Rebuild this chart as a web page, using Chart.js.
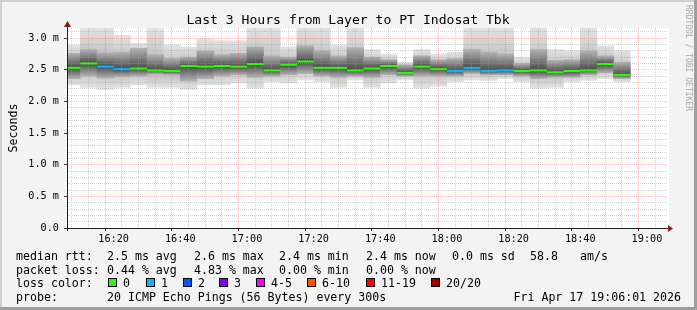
<!DOCTYPE html>
<html lang="en">
<head>
  <meta charset="UTF-8" />
  <title>Smokeping - Layer to PT Indosat Tbk</title>
  <script src="https://cdn.jsdelivr.net/npm/chart.js"></script>
  <style>
    html, body { margin: 0; padding: 0; background: #f3f3f3; }
    canvas { display: block; }
  </style>
</head>
<body>
  <canvas id="smokeChart" width="697" height="310"></canvas>

  <script>
    // 5 minute slots, each one named by the time it ends
    const slotEnds = ['16:10','16:15','16:20','16:25','16:30','16:35','16:40','16:45','16:50','16:55',
      '17:00','17:05','17:10','17:15','17:20','17:25','17:30','17:35','17:40','17:45',
      '17:50','17:55','18:00','18:05','18:10','18:15','18:20','18:25','18:30','18:35',
      '18:40','18:45','18:50','18:55'];

    // round trip times in ms
    const medianRtt = [2.53,2.60,2.55,2.51,2.52,2.49,2.48,2.56,2.55,2.56,
      2.55,2.59,2.49,2.58,2.63,2.53,2.53,2.49,2.52,2.56,
      2.45,2.55,2.51,2.48,2.53,2.48,2.49,2.48,2.49,2.46,
      2.48,2.49,2.59,2.42];
    const pingMin = [2.26,2.22,2.19,2.22,2.26,2.22,2.22,2.19,2.26,2.26,
      2.29,2.21,2.31,2.29,2.34,2.31,2.22,2.34,2.22,2.29,
      2.34,2.21,2.24,2.31,2.34,2.33,2.36,2.31,2.21,2.22,
      2.31,2.33,2.36,2.31];
    const pingLow = [2.36,2.40,2.37,2.39,2.40,2.43,2.42,2.32,2.36,2.40,
      2.42,2.38,2.40,2.42,2.44,2.40,2.38,2.40,2.38,2.42,
      2.40,2.40,2.40,2.40,2.44,2.42,2.42,2.40,2.36,2.38,
      2.38,2.42,2.45,2.36];
    const pingHigh = [2.76,2.82,2.77,2.78,2.84,2.74,2.68,2.70,2.80,2.74,
      2.76,2.86,2.72,2.70,2.88,2.80,2.72,2.85,2.70,2.66,
      2.58,2.72,2.66,2.68,2.82,2.78,2.75,2.60,2.82,2.65,
      2.66,2.80,2.72,2.62];
    const pingMax = [2.89,3.16,3.16,3.05,2.92,3.15,2.89,2.86,2.99,2.96,
      2.96,3.16,3.16,2.86,3.16,3.16,2.89,3.16,2.82,2.75,
      2.62,2.82,2.75,2.78,3.16,3.16,3.16,2.70,3.16,2.82,
      2.80,3.16,2.88,2.80];
    // pings lost out of 20
    const lostPings = [0,0,1,1,0,0,0,0,0,0,
      0,0,0,0,0,0,0,0,0,0,
      0,0,0,1,1,1,1,0,0,0,
      0,0,0,0];

    const lossLabels = ['0', '1', '2', '3', '4-5', '6-10', '11-19', '20/20'];
    const lossColors = ['#26ff00', '#00b8ff', '#0059ff', '#7e00ff', '#ff00ff', '#ff5500', '#ff0000', '#a10000'];

    const xTickLabels = ['16:20','16:40','17:00','17:20','17:40','18:00','18:20','18:40','19:00'];
    const yTickLabels = ['0.0','0.5 m','1.0 m','1.5 m','2.0 m','2.5 m','3.0 m'];

    const windowStart = '16:06:01';
    const windowEnd = '19:06:01';
    const yMax = 3.16;

    function toMin(t) {
      const p = t.split(':').map(Number);
      return p[0] * 60 + p[1] + (p[2] || 0) / 60;
    }

    function lossBucket(n) {
      if (n <= 3) return n;
      if (n <= 5) return 4;
      if (n <= 10) return 5;
      if (n <= 19) return 6;
      return 7;
    }

    const centers = slotEnds.map(t => toMin(t) - 2.5);
    const medianColors = lostPings.map(n => lossColors[lossBucket(n)]);

    const MONO = '"DejaVu Sans Mono", monospace';
    const MINOR = 'rgba(160,160,160,0.45)';
    const MAJOR = 'rgba(235,90,90,0.38)';

    // vertical shading of one smoke band, darkest at the median
    function smokeShade(lowArr, highArr, edge, core) {
      return c => {
        if (c.type !== 'data') return edge;
        const y = c.chart.scales.y;
        const i = c.dataIndex;
        const top = y.getPixelForValue(highArr[i]);
        const bottom = y.getPixelForValue(lowArr[i]);
        const mid = y.getPixelForValue(medianRtt[i]);
        if (!isFinite(top) || !isFinite(bottom) || bottom - top < 1) return edge;
        const g = c.chart.ctx.createLinearGradient(0, top, 0, bottom);
        const t = Math.min(0.98, Math.max(0.02, (mid - top) / (bottom - top)));
        g.addColorStop(0, edge);
        g.addColorStop(t, core);
        g.addColorStop(1, edge);
        return g;
      };
    }

    const statRows = [
      { y: 259.5, items: [[16, 'median rtt:'], [107, '2.5 ms avg'], [194, '2.6 ms max'], [279, '2.4 ms min'],
        [366, '2.4 ms now'], [452, '0.0 ms sd'], [530, '58.8'], [580, 'am/s']] },
      { y: 273.5, items: [[16, 'packet loss:'], [107, '0.44 % avg'], [194, '4.83 % max'], [279, '0.00 % min'],
        [366, '0.00 % now']] },
      { y: 287, items: [[16, 'loss color:']] },
      { y: 300.5, items: [[16, 'probe:'], [107, '20 ICMP Echo Pings (56 Bytes) every 300s']] }
    ];
    const lossBoxX = [108, 146, 183, 219, 256, 307, 366, 431];

    const decorations = {
      id: 'decorations',
      beforeDraw(chart) {
        const { ctx, chartArea: a, width, height } = chart;
        ctx.save();
        ctx.fillStyle = '#f3f3f3';
        ctx.fillRect(0, 0, width, height);
        ctx.fillStyle = '#ffffff';
        ctx.fillRect(a.left, a.top, a.right - a.left + 2, a.bottom - a.top);
        ctx.restore();
      },
      afterDraw(chart) {
        const { ctx, chartArea: a, width, height } = chart;
        ctx.save();

        // axes with arrow heads
        ctx.strokeStyle = '#202020';
        ctx.lineWidth = 1;
        ctx.beginPath();
        ctx.moveTo(a.left + 0.5, a.bottom + 3);
        ctx.lineTo(a.left + 0.5, a.top - 4);
        ctx.moveTo(a.left - 3, a.bottom + 0.5);
        ctx.lineTo(a.right + 2, a.bottom + 0.5);
        ctx.stroke();
        ctx.fillStyle = '#8b1a1a';
        ctx.beginPath();
        ctx.moveTo(a.left + 0.5, a.top - 7);
        ctx.lineTo(a.left + 4, a.top - 1);
        ctx.lineTo(a.left - 3, a.top - 1);
        ctx.closePath();
        ctx.fill();
        ctx.beginPath();
        ctx.moveTo(a.right + 6, a.bottom + 0.5);
        ctx.lineTo(a.right + 1, a.bottom - 3);
        ctx.lineTo(a.right + 1, a.bottom + 4);
        ctx.closePath();
        ctx.fill();

        // title
        ctx.fillStyle = '#000';
        ctx.font = '13.1px ' + MONO;
        ctx.textAlign = 'center';
        ctx.textBaseline = 'alphabetic';
        ctx.fillText('Last 3 Hours from Layer to PT Indosat Tbk', 348, 23.5);

        // unit label
        ctx.font = '11.6px ' + MONO;
        ctx.save();
        ctx.translate(14, 128);
        ctx.rotate(-Math.PI / 2);
        ctx.textBaseline = 'middle';
        ctx.fillText('Seconds', 0, 0);
        ctx.restore();

        // legend rows
        ctx.textAlign = 'left';
        statRows.forEach(row => {
          row.items.forEach(([x, txt]) => ctx.fillText(txt, x, row.y));
        });
        lossLabels.forEach((lbl, i) => {
          const bx = lossBoxX[i];
          ctx.fillStyle = lossColors[i];
          ctx.fillRect(bx, 278.5, 8, 8);
          ctx.strokeStyle = '#000';
          ctx.strokeRect(bx + 0.5, 278.5, 8, 8);
          ctx.fillStyle = '#000';
          ctx.fillText(lbl, bx + 15, 287);
        });
        ctx.textAlign = 'right';
        ctx.fillText('Fri Apr 17 19:06:01 2026', 681, 300.5);

        // watermark
        ctx.save();
        ctx.translate(688, 5);
        ctx.rotate(Math.PI / 2);
        ctx.font = '8px ' + MONO;
        ctx.fillStyle = '#a8a8a8';
        ctx.textAlign = 'left';
        ctx.textBaseline = 'middle';
        ctx.fillText('RRDTOOL / TOBI OETIKER', 0, 0);
        ctx.restore();

        // shaded frame
        ctx.fillStyle = '#cfcfcf';
        ctx.fillRect(0, 0, width, 2);
        ctx.fillRect(0, 0, 2, height);
        ctx.fillStyle = '#9e9e9e';
        ctx.fillRect(0, height - 3, width, 3);
        ctx.fillRect(width - 3, 0, 3, height);
        ctx.restore();
      }
    };

    const ctx = document.getElementById('smokeChart').getContext('2d');
    new Chart(ctx, {
      type: 'bar',
      data: {
        datasets: [
          {
            type: 'line',
            label: 'median rtt',
            data: centers.map((x, i) => ({ x: x, y: medianRtt[i] })),
            showLine: false,
            pointStyle: 'line',
            pointRadius: 8.34,
            pointHoverRadius: 8.34,
            pointBorderWidth: 2,
            pointBorderColor: medianColors,
            pointBackgroundColor: medianColors,
            clip: 0,
            order: 0
          },
          {
            label: 'core',
            data: centers.map((x, i) => ({ x: x, y: [pingLow[i], pingHigh[i]] })),
            backgroundColor: smokeShade(pingLow, pingHigh, '#b2b2b2', '#4a4a4a'),
            borderWidth: 0,
            grouped: false,
            barPercentage: 1,
            categoryPercentage: 1,
            clip: 0,
            order: 1
          },
          {
            label: 'smoke',
            data: centers.map((x, i) => ({ x: x, y: [pingMin[i], pingMax[i]] })),
            backgroundColor: smokeShade(pingMin, pingMax, '#e2e2e2', '#b6b6b6'),
            borderWidth: 0,
            grouped: false,
            barPercentage: 1,
            categoryPercentage: 1,
            clip: 0,
            order: 2
          }
        ]
      },
      options: {
        responsive: false,
        animation: false,
        events: [],
        layout: { padding: { top: 28, right: 30, left: 0, bottom: 0 } },
        plugins: {
          legend: { display: false },
          tooltip: { enabled: false }
        },
        scales: {
          x: {
            type: 'linear',
            offset: false,
            min: toMin(windowStart),
            max: toMin(windowEnd),
            afterFit: s => { s.height = 82; },
            afterBuildTicks: axis => {
              const t = [];
              for (let m = 970; m <= 1145; m += 5) t.push({ value: m });
              axis.ticks = t;
            },
            ticks: {
              autoSkip: false,
              maxRotation: 0,
              minRotation: 0,
              padding: 2,
              color: '#000',
              font: { family: 'DejaVu Sans Mono', size: 10.2 },
              callback: v => xTickLabels.find(l => Math.abs(toMin(l) - v) < 0.01) || ''
            },
            grid: {
              z: 1,
              lineWidth: 1,
              tickLength: 3,
              color: c => (c.tick && c.tick.value % 20 === 0 ? MAJOR : MINOR),
              tickColor: c => (c.tick && c.tick.value % 20 === 0 ? '#404040' : 'rgba(0,0,0,0)')
            },
            border: { display: true, color: '#202020', width: 1, z: 1, dash: [1, 1] }
          },
          y: {
            min: 0,
            max: yMax,
            afterFit: s => { s.width = 67; },
            afterBuildTicks: axis => {
              const t = [];
              for (let k = 0; k <= 31; k++) t.push({ value: k / 10 });
              axis.ticks = t;
            },
            ticks: {
              autoSkip: false,
              padding: 5,
              color: '#000',
              font: { family: 'DejaVu Sans Mono', size: 10.2 },
              callback: v => {
                const k = Math.round(v * 10);
                return k % 5 === 0 ? (yTickLabels[k / 5] || '') : '';
              }
            },
            grid: {
              z: 1,
              lineWidth: 1,
              tickLength: 3,
              color: c => {
                if (!c.tick) return MINOR;
                const k = Math.round(c.tick.value * 10);
                if (k === 0) return 'rgba(0,0,0,0)';
                return k % 5 === 0 ? MAJOR : MINOR;
              },
              tickColor: c => (c.tick && Math.round(c.tick.value * 10) % 5 === 0 ? '#404040' : 'rgba(0,0,0,0)')
            },
            border: { display: true, color: '#202020', width: 1, z: 1, dash: [1, 1] }
          }
        }
      },
      plugins: [decorations]
    });
  </script>
</body>
</html>
